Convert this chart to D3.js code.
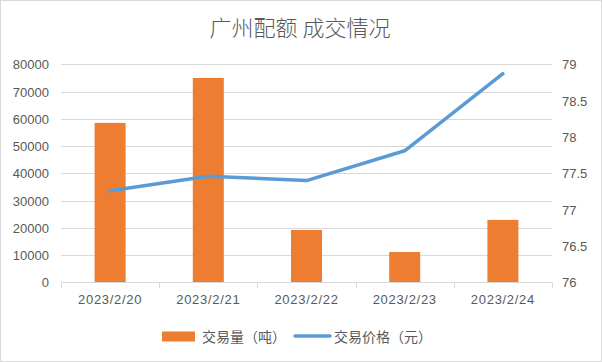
<!DOCTYPE html>
<html><head><meta charset="utf-8">
<script src="https://cdn.jsdelivr.net/npm/d3@7"></script>
<style>body{margin:0;background:#fff;font-family:"Noto Sans CJK SC","DejaVu Sans",sans-serif;}</style>
</head><body><svg id="c" width="602" height="362"></svg>
<script>
const categories = ["2023/2/20","2023/2/21","2023/2/22","2023/2/23","2023/2/24"];
const volume = [58500, 75000, 19200, 11100, 22900];
const price = [77.26, 77.46, 77.40, 77.81, 78.87];
const leftTicks = [0,10000,20000,30000,40000,50000,60000,70000,80000];
const rightTicks = [76,76.5,77,77.5,78,78.5,79];
const title = "广州配额 成交情况";
const seriesNames = ["交易量（吨）","交易价格（元）"];

const svg = d3.select("#c");
const W = 602, H = 362;
svg.append("rect").attr("x",0.5).attr("y",0.5).attr("width",W-1).attr("height",H-1)
  .attr("fill","#fff").attr("stroke","#d9d9d9");

const L = 61, R = 552, T = 64.3, B = 282.3;
const x = d3.scaleBand().domain(categories).range([L,R]).paddingInner(0).paddingOuter(0);
const yL = d3.scaleLinear().domain([0,80000]).range([B,T]);
const yR = d3.scaleLinear().domain([76,79]).range([B,T]);
const textCol = "#595959";
const font = "Liberation Sans, Arial, sans-serif";

// grid
svg.append("g").selectAll("line").data(leftTicks.slice(1)).join("line")
  .attr("x1",L).attr("x2",R).attr("y1",d=>Math.round(yL(d))+0.5).attr("y2",d=>Math.round(yL(d))+0.5)
  .attr("stroke","#d9d9d9").attr("stroke-width",1);

// left axis labels
svg.append("g").selectAll("text").data(leftTicks).join("text")
  .attr("x",49).attr("y",d=>yL(d)+0.5).attr("dy","0.35em").attr("text-anchor","end")
  .attr("font-family",font).attr("font-size",13).attr("fill",textCol).text(d=>d);
// right axis labels
svg.append("g").selectAll("text").data(rightTicks).join("text")
  .attr("x",562).attr("y",d=>yR(d)+0.5).attr("dy","0.35em").attr("text-anchor","start")
  .attr("font-family",font).attr("font-size",13).attr("fill",textCol).text(d=>d);

// bars
const bw = 31;
svg.append("g").selectAll("rect").data(volume).join("rect")
  .attr("x",(d,i)=>x(categories[i])+x.bandwidth()/2-bw/2)
  .attr("width",bw)
  .attr("y",d=>yL(d)).attr("height",d=>B-yL(d))
  .attr("fill","#ED7D31");

// x axis
const xa = svg.append("g").attr("transform",`translate(0,${Math.round(B)+0.5})`)
  .call(d3.axisBottom(x).tickSize(0).tickPadding(12));
xa.select(".domain").attr("stroke","#d9d9d9").attr("d",`M${L},0H${R}`);
xa.selectAll("text").attr("font-family",font).attr("font-size",13).attr("letter-spacing",0.7).attr("fill",textCol);
svg.append("g").selectAll("line").data(categories.concat(["_end"])).join("line")
  .attr("x1",(d,i)=>Math.round(L+i*x.bandwidth())+0.5).attr("x2",(d,i)=>Math.round(L+i*x.bandwidth())+0.5)
  .attr("y1",B).attr("y2",B+6).attr("stroke","#d9d9d9");

// line
const line = d3.line().x((d,i)=>x(categories[i])+x.bandwidth()/2).y(d=>yR(d));
svg.append("path").datum(price).attr("d",line).attr("fill","none")
  .attr("stroke","#5B9BD5").attr("stroke-width",3.5).attr("stroke-linejoin","round").attr("stroke-linecap","round");

// title
svg.append("text").attr("x",300).attr("y",35.5).attr("text-anchor","middle")
  .attr("font-size",22).attr("font-weight",300).attr("fill",textCol).text(title);

// legend
const lg = svg.append("g");
lg.append("rect").attr("x",162).attr("y",331.5).attr("width",33).attr("height",10).attr("fill","#ED7D31");
lg.append("text").attr("x",202).attr("y",337).attr("dy","0.35em").attr("font-size",14).attr("fill",textCol).text(seriesNames[0]);
lg.append("line").attr("x1",295).attr("x2",330).attr("y1",336).attr("y2",336)
  .attr("stroke","#5B9BD5").attr("stroke-width",3.5).attr("stroke-linecap","round");
lg.append("text").attr("x",334).attr("y",337).attr("dy","0.35em").attr("font-size",14).attr("fill",textCol).text(seriesNames[1]);
</script></body></html>
